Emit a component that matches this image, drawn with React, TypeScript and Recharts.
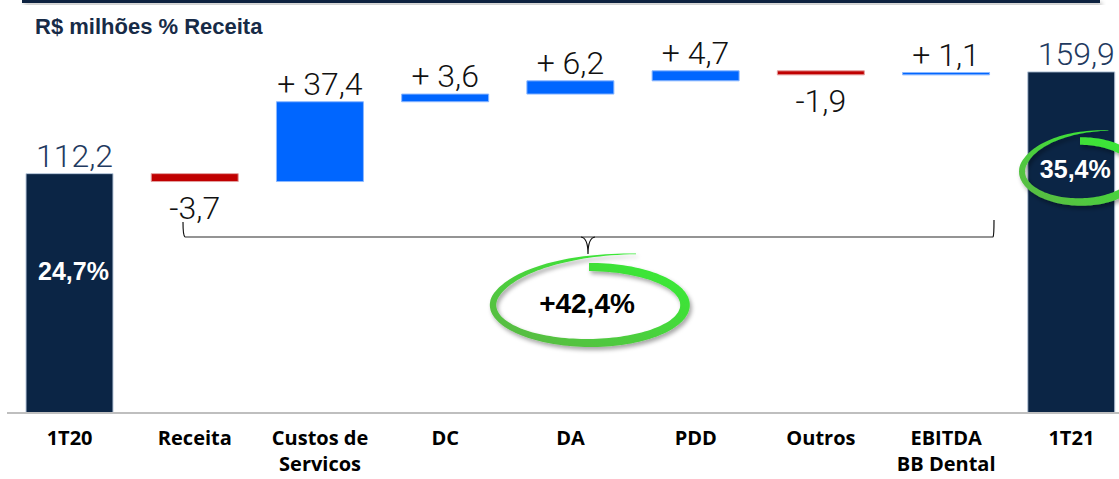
import React from "react";
import { BarChart, Bar, XAxis, YAxis, Cell, LabelList } from "recharts";

// categories on the x axis ("\n" = line break in the tick)
const categories = [
  "1T20",
  "Receita",
  "Custos de\nServicos",
  "DC",
  "DA",
  "PDD",
  "Outros",
  "EBITDA\nBB Dental",
  "1T21",
];
// totals for the end bars, deltas for the bridge
const values = [112.2, -3.7, 37.4, 3.6, 6.2, 4.7, -1.9, 1.1, 159.9];
const isTotal = [true, false, false, false, false, false, false, false, true];
// EBITDA margin (% Receita) shown inside the end bars
const marginLabels = ["24,7%", "", "", "", "", "", "", "", "35,4%"];
const growthLabel = "+42,4%";

const NAVY = "#0B2545";
const BLUE = "#0066FF";
const RED = "#C00000";

let running = 0;
const data = categories.map((name, i) => {
  const v = values[i];
  let range: number[];
  if (isTotal[i]) {
    range = [0, v];
    running = v;
  } else {
    const next = running + v;
    range = [Math.min(running, next), Math.max(running, next)];
    running = next;
  }
  return { name, range, value: v, total: isTotal[i], pct: marginLabels[i] };
});

const fmt = (v: number) => v.toFixed(1).replace(".", ",");

const barColor = (i: number) =>
  data[i].total ? NAVY : data[i].value < 0 ? RED : BLUE;
const barEdge = (i: number) =>
  data[i].total ? "#B9C8DB" : data[i].value < 0 ? "#E3A0A0" : "#8CB8FF";

const ValueLabel = (props: any) => {
  const { x, y, width, height, index } = props;
  const d = data[index];
  const top = Math.min(y, y + height);
  const bottom = Math.max(y, y + height);
  const cx = x + width / 2 + (d.total ? 5 : 0);
  const style = {
    fontFamily: "Roboto, 'DejaVu Sans', sans-serif",
    fontWeight: 300,
    fontSize: 32,
  };
  if (d.value < 0) {
    return (
      <text x={cx} y={bottom + 37} textAnchor="middle" fill="#111" style={style}>
        {"-" + fmt(-d.value)}
      </text>
    );
  }
  return (
    <text
      x={cx}
      y={top - 7}
      textAnchor="middle"
      fill={d.total ? "#1F3A60" : "#111"}
      style={style}
    >
      {d.total ? fmt(d.value) : "+ " + fmt(d.value)}
    </text>
  );
};

const PctLabel = (props: any) => {
  const { x, y, width, height, index } = props;
  const d = data[index];
  if (!d.pct) return null;
  const top = Math.min(y, y + height);
  return (
    <text
      x={x + width / 2 + 4}
      y={top + 106}
      textAnchor="middle"
      fill="#fff"
      style={{
        fontFamily: "'Liberation Sans', Arial, sans-serif",
        fontWeight: 700,
        fontSize: 25,
      }}
    >
      {d.pct}
    </text>
  );
};

const CategoryTick = (props: any) => {
  const { x, y, payload } = props;
  const lines = String(payload.value).split("\n");
  return (
    <text
      x={x}
      y={y + 32}
      textAnchor="middle"
      fill="#000"
      style={{ fontFamily: "'Open Sans', sans-serif", fontWeight: 700, fontSize: 20 }}
    >
      {lines.map((l, i) => (
        <tspan key={i} x={x} dy={i === 0 ? 0 : 26}>
          {l}
        </tspan>
      ))}
    </text>
  );
};

// hand-drawn green ring: thick stroke that tapers into a tail past the top
function swoosh(cx: number, cy: number, rx: number, ry: number, w: number) {
  const outer: number[][] = [];
  const inner: number[][] = [];
  const tailStart = 195;
  const end = 292;
  for (let t = -90; t <= end; t += 2.5) {
    const u = t > tailStart ? (t - tailStart) / (end - tailStart) : 0;
    const s = 1 + 0.45 * u * u;
    const r = (t * Math.PI) / 180;
    const half = (w * (1 + 0.2 * Math.cos(r)) * (1 - 0.95 * u)) / 2;
    outer.push([cx + (rx * s + half) * Math.cos(r), cy + (ry * s + half) * Math.sin(r)]);
    inner.push([cx + (rx * s - half) * Math.cos(r), cy + (ry * s - half) * Math.sin(r)]);
  }
  const pts = outer.concat(inner.reverse());
  return "M" + pts.map((p) => p[0].toFixed(1) + "," + p[1].toFixed(1)).join("L") + "Z";
}

export default function App() {
  return (
    <div
      style={{
        position: "absolute",
        left: 0,
        top: 0,
        width: 1119,
        height: 479,
        overflow: "hidden",
        background: "#fff",
      }}
    >
      <BarChart
        width={1140}
        height={479}
        data={data}
        margin={{ top: 29, right: 6, bottom: 16, left: 7 }}
        barSize={87}
      >
        <XAxis
          dataKey="name"
          height={50}
          axisLine={{ stroke: "#BFBFBF", strokeWidth: 2 }}
          tickLine={false}
          tickSize={0}
          tickMargin={0}
          interval={0}
          tick={<CategoryTick />}
        />
        <YAxis hide domain={[0, 180]} />
        <Bar dataKey="range" isAnimationActive={false}>
          {data.map((d, i) => (
            <Cell key={d.name} fill={barColor(i)} stroke={barEdge(i)} strokeWidth={1} />
          ))}
          <LabelList dataKey="range" content={<ValueLabel />} />
          <LabelList dataKey="range" content={<PctLabel />} />
        </Bar>
      </BarChart>

      <svg
        width={1119}
        height={479}
        style={{ position: "absolute", left: 0, top: 0, pointerEvents: "none" }}
      >
        <defs>
          <filter id="shadow" x="-20%" y="-20%" width="140%" height="160%">
            <feDropShadow dx="2" dy="3" stdDeviation="2" floodColor="#000" floodOpacity="0.35" />
          </filter>
          <linearGradient id="green" x1="1" y1="0" x2="0" y2="1">
            <stop offset="0%" stopColor="#33F233" />
            <stop offset="100%" stopColor="#5DB545" />
          </linearGradient>
        </defs>

        {/* top rule */}
        <rect x={22} y={0} width={1078} height={3} fill="#0B2341" filter="url(#shadow)" />

        <text
          x={35}
          y={34}
          fill="#172B47"
          style={{ fontFamily: "'Liberation Sans', Arial, sans-serif", fontWeight: 700, fontSize: 22 }}
        >
          R$ milhões % Receita
        </text>

        {/* brace over the bridge */}
        <line x1={185} y1={237} x2={993} y2={237} stroke="#707070" strokeWidth={1.5} />
        <path d="M185,237 Q183,236 183,222" fill="none" stroke="#111" strokeWidth={1.2} />
        <path d="M993,237 Q994,236 994,220" fill="none" stroke="#111" strokeWidth={1.2} />
        <path d="M581,237 Q588,238 588,254 M595,237 Q588,238 588,254" fill="none" stroke="#111" strokeWidth={1.2} />

        <path d={swoosh(589, 305, 96, 38, 8)} fill="url(#green)" filter="url(#shadow)" />
        <text
          x={587}
          y={313}
          textAnchor="middle"
          fill="#000"
          style={{ fontFamily: "'Liberation Sans', Arial, sans-serif", fontWeight: 700, fontSize: 28 }}
        >
          {growthLabel}
        </text>

        <path d={swoosh(1080, 171.5, 58, 30.5, 7.5)} fill="url(#green)" filter="url(#shadow)" />
      </svg>
    </div>
  );
}
